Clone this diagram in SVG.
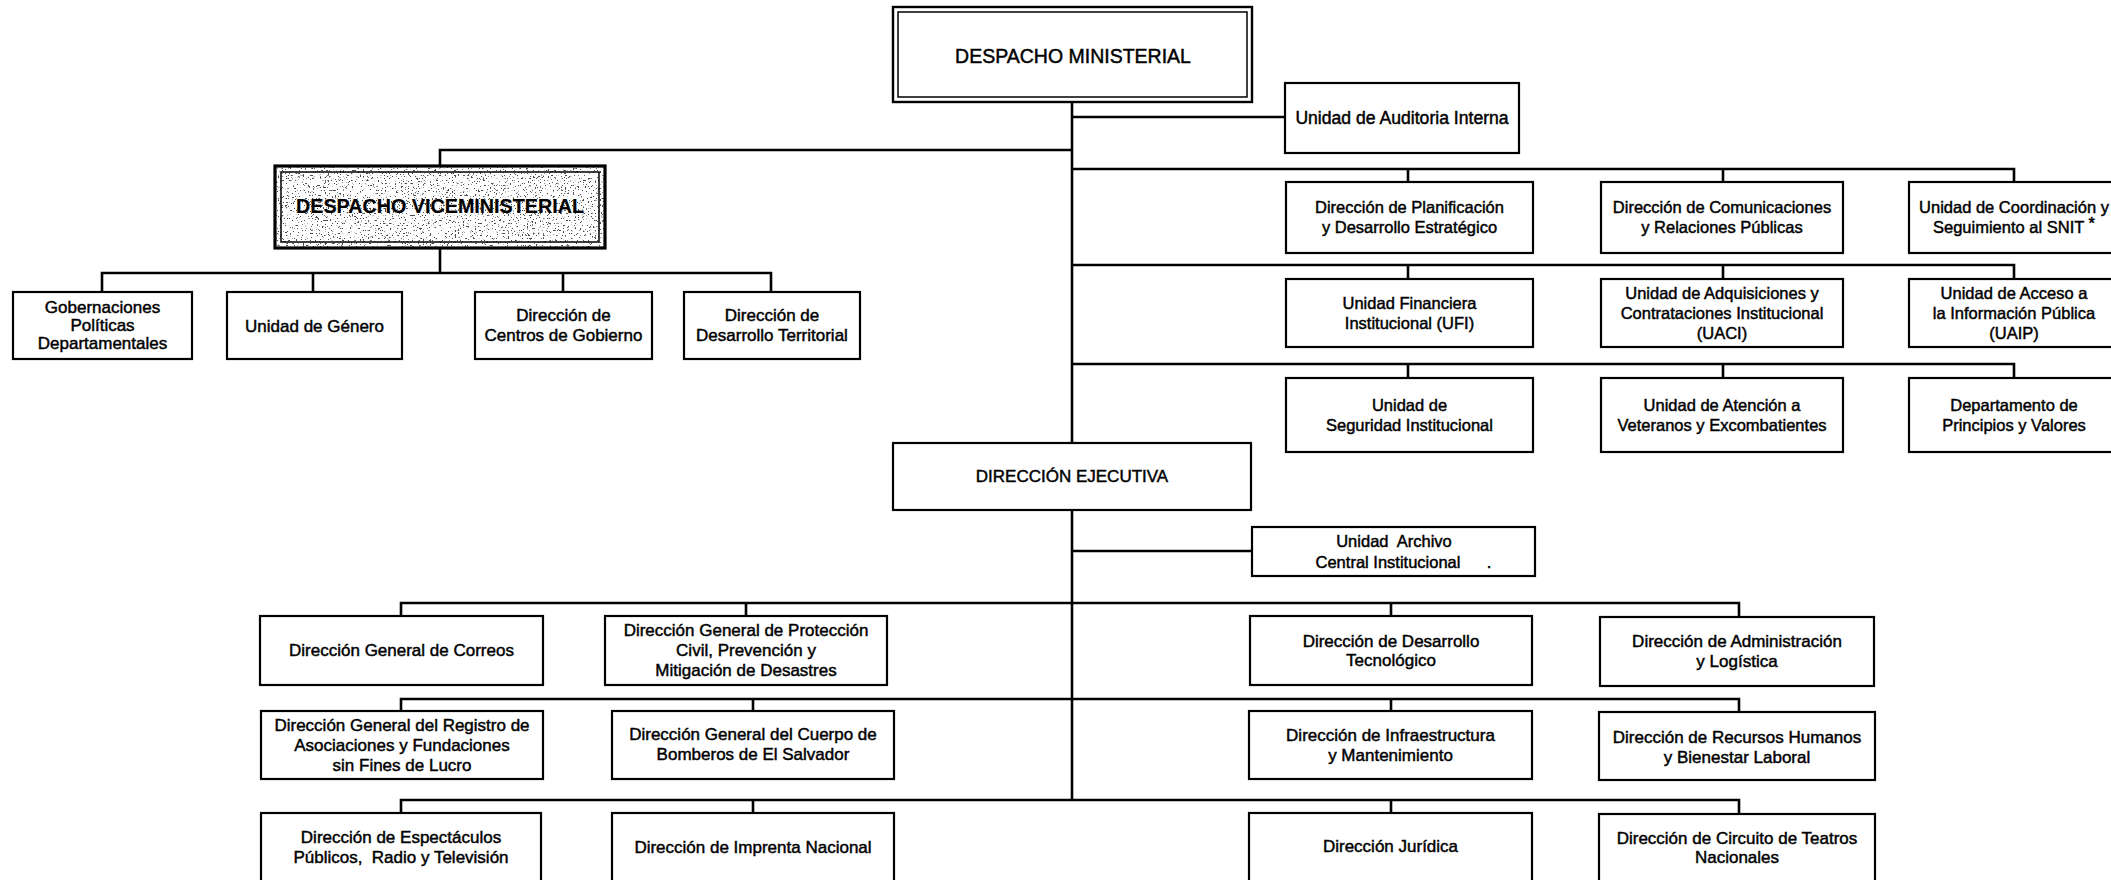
<svg xmlns="http://www.w3.org/2000/svg" width="2111" height="880" viewBox="0 0 2111 880">
<style>
.box{fill:#fff;stroke:#000;stroke-width:2.2}
.ln{fill:none;stroke:#000;stroke-width:2.6}
text{font-family:"Liberation Sans",Arial,sans-serif;fill:#000;text-anchor:middle;stroke:#000;stroke-width:0.45}
.t{font-size:16.5px}
.tb{font-size:17px}
.tv{font-size:17px}
</style>
<defs>
<filter id="stip" x="0" y="0" width="100%" height="100%">
<feTurbulence type="fractalNoise" baseFrequency="0.6" numOctaves="2" seed="11" result="n"/>
<feColorMatrix in="n" type="matrix" values="0 0 0 0 0.07  0 0 0 0 0.07  0 0 0 0 0.07  16 0 0 0 -10.1"/>
<feComposite in2="SourceGraphic" operator="in"/>
</filter>
</defs>

<g id="connectors">
<path class="ln" d="M1072 102V443M1072 510V800"/>
<path class="ln" d="M1072 117H1285"/>
<path class="ln" d="M1072 150H440V166M440 248V273M102 292V273H771V292M313 273V292M563 273V292"/>
<path class="ln" d="M1072 169H2014V182M1408 169V182M1723 169V182"/>
<path class="ln" d="M1072 265H2014V280M1408 265V280M1723 265V280"/>
<path class="ln" d="M1072 364H2014V378M1408 364V378M1723 364V378"/>
<path class="ln" d="M1072 551H1252"/>
<path class="ln" d="M401 616V603H1739V616M746 603V616M1391 603V616"/>
<path class="ln" d="M401 711V699H1739V711M753 699V711M1391 699V711"/>
<path class="ln" d="M401 813V800H1739V813M753 800V813M1391 800V813"/>
</g>

<g id="despacho-ministerial">
<rect x="893" y="7" width="359" height="95" fill="#fff" stroke="#000" stroke-width="2.4"/>
<rect x="898" y="12" width="349" height="85" fill="none" stroke="#000" stroke-width="1.5"/>
<text x="1073" y="63" style="font-size:19.5px">DESPACHO MINISTERIAL</text>
</g>

<g id="auditoria">
<rect class="box" x="1285" y="83" width="234" height="70"/>
<text x="1402" y="124" style="font-size:17.6px">Unidad de Auditoria Interna</text>
</g>

<g id="despacho-viceministerial">
<rect x="275" y="166" width="330" height="82" fill="#fff"/>
<rect x="275" y="166" width="330" height="82" fill="#000" filter="url(#stip)"/>
<rect x="275" y="166" width="330" height="82" fill="none" stroke="#000" stroke-width="3.2"/>
<rect x="281" y="172" width="318" height="70" fill="none" stroke="#000" stroke-width="1.5"/>
<text x="440" y="213" style="font-size:20px;font-weight:bold;stroke-width:0.2" textLength="288" lengthAdjust="spacingAndGlyphs">DESPACHO VICEMINISTERIAL</text>
</g>

<g id="gobernaciones">
<rect class="box" x="13" y="292" width="179" height="67"/>
<text class="tv"><tspan x="102.5" y="313">Gobernaciones</tspan><tspan x="102.5" y="331">Políticas</tspan><tspan x="102.5" y="349">Departamentales</tspan></text>
</g>
<g id="genero">
<rect class="box" x="227" y="292" width="175" height="67"/>
<text class="tv" x="314.5" y="332">Unidad de Género</text>
</g>
<g id="centros-gobierno">
<rect class="box" x="475" y="292" width="177" height="67"/>
<text class="tv"><tspan x="563.5" y="321">Dirección de</tspan><tspan x="563.5" y="341">Centros de Gobierno</tspan></text>
</g>
<g id="desarrollo-territorial">
<rect class="box" x="684" y="292" width="176" height="67"/>
<text class="tv"><tspan x="772" y="321">Dirección de</tspan><tspan x="772" y="341">Desarrollo Territorial</tspan></text>
</g>

<g id="planificacion">
<rect class="box" x="1286" y="182" width="247" height="71"/>
<text class="t"><tspan x="1409.5" y="213">Dirección de Planificación</tspan><tspan x="1409.5" y="233">y Desarrollo Estratégico</tspan></text>
</g>
<g id="comunicaciones">
<rect class="box" x="1601" y="182" width="242" height="71"/>
<text class="t"><tspan x="1722" y="213">Dirección de Comunicaciones</tspan><tspan x="1722" y="233">y Relaciones Públicas</tspan></text>
</g>
<g id="snit">
<rect class="box" x="1909" y="182" width="210" height="71"/>
<text class="t"><tspan x="2014" y="213">Unidad de Coordinación y</tspan><tspan x="2014" y="233">Seguimiento al SNIT <tspan dy="-4">*</tspan></tspan></text>
</g>

<g id="ufi">
<rect class="box" x="1286" y="279" width="247" height="68"/>
<text class="t"><tspan x="1409.5" y="309">Unidad Financiera</tspan><tspan x="1409.5" y="329">Institucional (UFI)</tspan></text>
</g>
<g id="uaci">
<rect class="box" x="1601" y="279" width="242" height="68"/>
<text class="t"><tspan x="1722" y="299">Unidad de Adquisiciones y</tspan><tspan x="1722" y="319">Contrataciones Institucional</tspan><tspan x="1722" y="339">(UACI)</tspan></text>
</g>
<g id="uaip">
<rect class="box" x="1909" y="279" width="210" height="68"/>
<text class="t"><tspan x="2014" y="299">Unidad de Acceso a</tspan><tspan x="2014" y="319">la Información Pública</tspan><tspan x="2014" y="339">(UAIP)</tspan></text>
</g>

<g id="seguridad">
<rect class="box" x="1286" y="378" width="247" height="74"/>
<text class="t"><tspan x="1409.5" y="411">Unidad de</tspan><tspan x="1409.5" y="431">Seguridad Institucional</tspan></text>
</g>
<g id="veteranos">
<rect class="box" x="1601" y="378" width="242" height="74"/>
<text class="t"><tspan x="1722" y="411">Unidad de Atención a</tspan><tspan x="1722" y="431">Veteranos y Excombatientes</tspan></text>
</g>
<g id="principios">
<rect class="box" x="1909" y="378" width="210" height="74"/>
<text class="t"><tspan x="2014" y="411">Departamento de</tspan><tspan x="2014" y="431">Principios y Valores</tspan></text>
</g>

<g id="direccion-ejecutiva">
<rect class="box" x="893" y="443" width="358" height="67"/>
<text x="1072" y="482" style="font-size:17px">DIRECCIÓN EJECUTIVA</text>
</g>

<g id="archivo">
<rect class="box" x="1252" y="527" width="283" height="49"/>
<text class="t"><tspan x="1394" y="547">Unidad&#160; Archivo</tspan><tspan x="1388" y="568">Central Institucional</tspan><tspan x="1489" y="568">.</tspan></text>
</g>

<g id="correos">
<rect class="box" x="260" y="616" width="283" height="69"/>
<text class="tb" x="401.5" y="656">Dirección General de Correos</text>
</g>
<g id="proteccion-civil">
<rect class="box" x="605" y="616" width="282" height="69"/>
<text class="tb"><tspan x="746" y="636">Dirección General de Protección</tspan><tspan x="746" y="656">Civil, Prevención y</tspan><tspan x="746" y="676">Mitigación de Desastres</tspan></text>
</g>
<g id="desarrollo-tecnologico">
<rect class="box" x="1250" y="616" width="282" height="69"/>
<text class="tb"><tspan x="1391" y="647">Dirección de Desarrollo</tspan><tspan x="1391" y="666">Tecnológico</tspan></text>
</g>
<g id="administracion">
<rect class="box" x="1600" y="617" width="274" height="69"/>
<text class="tb"><tspan x="1737" y="647">Dirección de Administración</tspan><tspan x="1737" y="667">y Logística</tspan></text>
</g>

<g id="registro">
<rect class="box" x="261" y="711" width="282" height="68"/>
<text class="tb"><tspan x="402" y="731">Dirección General del Registro de</tspan><tspan x="402" y="751">Asociaciones y Fundaciones</tspan><tspan x="402" y="771">sin Fines de Lucro</tspan></text>
</g>
<g id="bomberos">
<rect class="box" x="612" y="711" width="282" height="68"/>
<text class="tb"><tspan x="753" y="740">Dirección General del Cuerpo de</tspan><tspan x="753" y="760">Bomberos de El Salvador</tspan></text>
</g>
<g id="infraestructura">
<rect class="box" x="1249" y="711" width="283" height="68"/>
<text class="tb"><tspan x="1390.5" y="741">Dirección de Infraestructura</tspan><tspan x="1390.5" y="761">y Mantenimiento</tspan></text>
</g>
<g id="recursos-humanos">
<rect class="box" x="1599" y="712" width="276" height="68"/>
<text class="tb"><tspan x="1737" y="743">Dirección de Recursos Humanos</tspan><tspan x="1737" y="763">y Bienestar Laboral</tspan></text>
</g>

<g id="espectaculos">
<rect class="box" x="261" y="813" width="280" height="80"/>
<text class="tb"><tspan x="401" y="843">Dirección de Espectáculos</tspan><tspan x="401" y="863">Públicos,&#160; Radio y Televisión</tspan></text>
</g>
<g id="imprenta">
<rect class="box" x="612" y="813" width="282" height="80"/>
<text class="tb" x="753" y="853">Dirección de Imprenta Nacional</text>
</g>
<g id="juridica">
<rect class="box" x="1249" y="813" width="283" height="80"/>
<text class="tb" x="1390.5" y="852">Dirección Jurídica</text>
</g>
<g id="teatros">
<rect class="box" x="1599" y="814" width="276" height="80"/>
<text class="tb"><tspan x="1737" y="844">Dirección de Circuito de Teatros</tspan><tspan x="1737" y="863">Nacionales</tspan></text>
</g>
</svg>
